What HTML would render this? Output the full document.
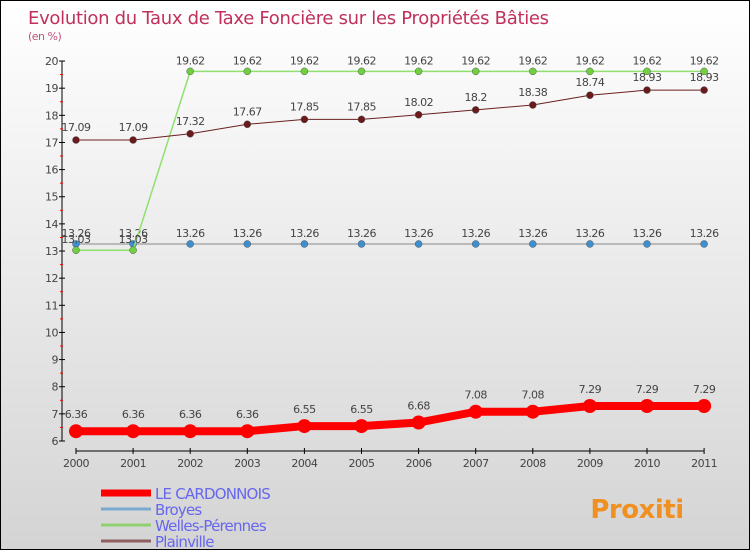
<!DOCTYPE html>
<html><head><meta charset="utf-8"><style>
body{margin:0;}
#c{width:748px;height:548px;border:1px solid #000;background:linear-gradient(#fff,#d4d4d4);position:relative;overflow:hidden;font-family:"DejaVu Sans","Liberation Sans",sans-serif;}
</style></head><body>
<div id="c">
<svg id="s" width="748" height="548" style="position:absolute;left:0;top:0"></svg>
</div>
<script>
const years=["2000","2001","2002","2003","2004","2005","2006","2007","2008","2009","2010","2011"];
const cardonnois=[6.36,6.36,6.36,6.36,6.55,6.55,6.68,7.08,7.08,7.29,7.29,7.29];
const broyes=[13.26,13.26,13.26,13.26,13.26,13.26,13.26,13.26,13.26,13.26,13.26,13.26];
const welles=[13.03,13.03,19.62,19.62,19.62,19.62,19.62,19.62,19.62,19.62,19.62,19.62];
const plainville=[17.09,17.09,17.32,17.67,17.85,17.85,18.02,18.2,18.38,18.74,18.93,18.93];
const yTicks=[6,7,8,9,10,11,12,13,14,15,16,17,18,19,20];
const NS="http://www.w3.org/2000/svg",s=document.getElementById('s');
function X(i){return 75+i*57.1;}
function Y(v){return 440-(v-6)*27.14;}
function el(t,a,p){const e=document.createElementNS(NS,t);for(const k in a)e.setAttribute(k,a[k]);(p||s).appendChild(e);return e;}
function tx(x,y,str,o){const e=el('text',Object.assign({x:x,y:y,'font-size':11,fill:'#444','text-anchor':'middle','letter-spacing':'-0.5'},o||{}));e.textContent=str;return e;}
let t=tx(27,23,"Evolution du Taux de Taxe Foncière sur les Propriétés Bâties",{'font-size':18,fill:'#c0305a','text-anchor':'start','letter-spacing':'-0.3'});

t=tx(27,39,"(en %)",{'font-size':11,fill:'#c0507a','text-anchor':'start'});

let ax=el('g',{});
el('line',{x1:61,y1:Y(20),x2:61,y2:Y(6),stroke:'#000'},ax);
yTicks.forEach(v=>{el('line',{x1:58,x2:64,y1:Y(v),y2:Y(v),stroke:'#000'},ax);
 if(v<20)el('line',{x1:59,x2:62,y1:Y(v+0.5),y2:Y(v+0.5),stroke:'#f00'},ax);
 const e=tx(57,Y(v)+4,String(v),{'text-anchor':'end'},ax);ax.appendChild(e);});
let xa=el('g',{});
el('line',{x1:X(0),x2:X(11),y1:450,y2:450,stroke:'#000'},xa);
years.forEach((y,i)=>{el('line',{x1:X(i),x2:X(i),y1:447,y2:453,stroke:'#000'},xa);xa.appendChild(tx(X(i),466,y));});
function series(name,vals,color,dot,w,r,lblOff){
 const g=el('g',{});
 el('polyline',{points:vals.map((v,i)=>X(i)+','+Y(v)).join(' '),fill:'none',stroke:color,'stroke-width':w},g);
 vals.forEach((v,i)=>{const c=el('circle',{cx:X(i),cy:Y(v),r:r,fill:dot,stroke:w>3?'none':'#555','stroke-width':0.5},g);
  
  g.appendChild(tx(X(i),Y(v)-lblOff,String(v)));});
}
series('series-broyes',broyes,'#888',"#3d8fd0",1,3.5,7);
series('series-welles-perennes',welles,'#90e070',"#70d040",1.5,3.5,7);
series('series-plainville',plainville,'#6a2020',"#6a1a1a",1,3.5,9);
series('series-le-cardonnois',cardonnois,'#f00',"#f00",8,7,13);
const leg=[["LE CARDONNOIS","#f00",7],["Broyes","#7aaad0",3],["Welles-Pérennes","#90d070",3],["Plainville","#906060",3]];
leg.forEach((l,i)=>{const g=el('g',{});
 const y=492+i*16;el('line',{x1:100,x2:150,y1:y,y2:y,stroke:l[1],'stroke-width':l[2]},g);
 g.appendChild(tx(154,y+6,l[0],{'font-size':15,fill:'#6666ee','text-anchor':'start','letter-spacing':'-0.8'}));});
t=tx(636,517,"Proxiti",{'font-size':26,'font-weight':'bold',fill:'#f09020'});

</script>
</body></html>
